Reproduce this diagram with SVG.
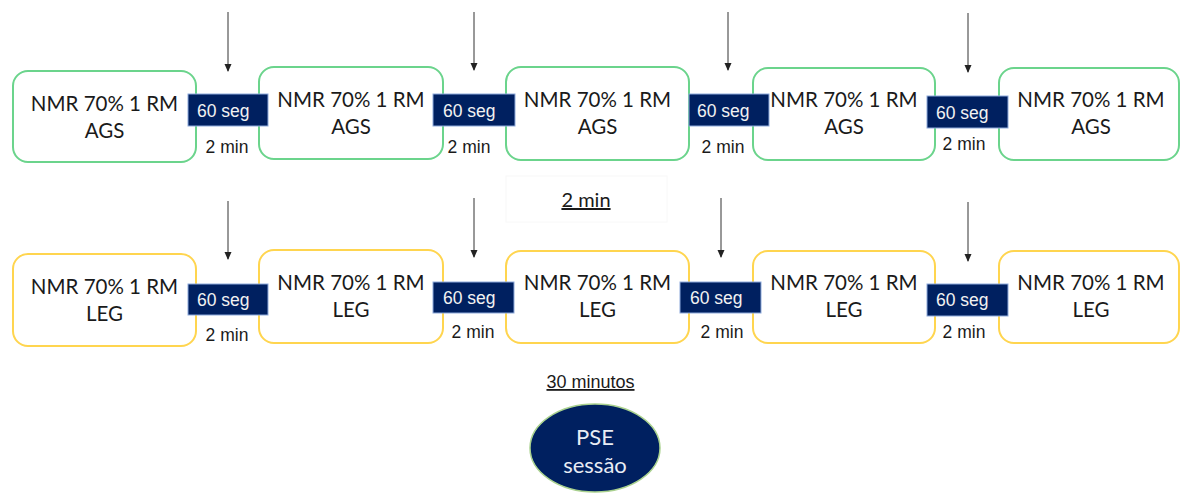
<svg xmlns="http://www.w3.org/2000/svg" width="1181" height="494" viewBox="0 0 1181 494">
<defs>
<marker id="ah" markerWidth="8" markerHeight="8" refX="7" refY="4" orient="auto" markerUnits="userSpaceOnUse">
<path d="M0,0.5 L8,4 L0,7.5 Z" fill="#222"/>
</marker>
<style>
.g{fill:#fff;stroke:#6bd48c;stroke-width:2}
.y{fill:#fff;stroke:#ffd54f;stroke-width:2}
.t{font-family:Lato,"Noto Sans",sans-serif;font-size:20.5px;fill:#1a1a1a;text-anchor:middle}
.s{fill:#002060;stroke:#8eaadb;stroke-width:1}
.st{font-family:"Liberation Sans",Arial,sans-serif;font-size:17.5px;fill:#f2f2f2}
.m{font-family:"Liberation Sans",Arial,sans-serif;font-size:17.5px;fill:#1a1a1a;text-anchor:middle}
.a{stroke:#333;stroke-width:1;fill:none;marker-end:url(#ah)}
</style>
</defs>
<rect width="1181" height="494" fill="#fff"/>
<g id="connectors">
<line class="a" x1="228" y1="12" x2="228" y2="71"/>
<line class="a" x1="474" y1="12" x2="474" y2="70"/>
<line class="a" x1="728" y1="12" x2="728" y2="70"/>
<line class="a" x1="968" y1="13" x2="968" y2="72"/>
<line class="a" x1="228" y1="201" x2="228" y2="259"/>
<line class="a" x1="474" y1="198" x2="474" y2="257"/>
<line class="a" x1="721" y1="198" x2="721" y2="257"/>
<line class="a" x1="968" y1="202" x2="968" y2="261"/>
</g>
<g id="ags1"><rect class="g" x="13" y="71" width="183" height="91" rx="15"/><text class="t" x="104.5" y="111">NMR 70% 1 RM</text><text class="t" x="104.5" y="138">AGS</text></g>
<g id="ags2"><rect class="g" x="259" y="67" width="184" height="92" rx="15"/><text class="t" x="351" y="107">NMR 70% 1 RM</text><text class="t" x="351" y="134">AGS</text></g>
<g id="ags3"><rect class="g" x="506" y="67" width="183" height="93" rx="15"/><text class="t" x="597.5" y="107">NMR 70% 1 RM</text><text class="t" x="597.5" y="134">AGS</text></g>
<g id="ags4"><rect class="g" x="753" y="68" width="182" height="92" rx="15"/><text class="t" x="844" y="107">NMR 70% 1 RM</text><text class="t" x="844" y="134">AGS</text></g>
<g id="ags5"><rect class="g" x="999" y="68" width="180" height="92" rx="15"/><text class="t" x="1091" y="107">NMR 70% 1 RM</text><text class="t" x="1091" y="134">AGS</text></g>
<g id="rest1"><rect class="s" x="188" y="94" width="80" height="32"/><text class="st" x="197" y="117">60 seg</text></g>
<g id="rest2"><rect class="s" x="433" y="94" width="82" height="32"/><text class="st" x="443" y="117">60 seg</text></g>
<g id="rest3"><rect class="s" x="689" y="94" width="80" height="32"/><text class="st" x="697" y="117">60 seg</text></g>
<g id="rest4"><rect class="s" x="927" y="96" width="81" height="32"/><text class="st" x="936" y="119">60 seg</text></g>
<g id="min1"><text class="m" x="227" y="153">2 min</text><text class="m" x="469" y="153">2 min</text><text class="m" x="723" y="153">2 min</text><text class="m" x="964" y="150">2 min</text></g>
<g id="between"><rect x="506" y="176" width="161" height="46" fill="#fff" stroke="#f8f8f8" stroke-width="1"/><text x="586" y="207" font-family="Lato,'Noto Sans',sans-serif" font-size="20" fill="#1a1a1a" text-anchor="middle" text-decoration="underline">2 min</text></g>
<g id="leg1"><rect class="y" x="13" y="254" width="183" height="92" rx="15"/><text class="t" x="104.5" y="294">NMR 70% 1 RM</text><text class="t" x="104.5" y="321">LEG</text></g>
<g id="leg2"><rect class="y" x="259" y="250" width="184" height="93" rx="15"/><text class="t" x="351" y="290">NMR 70% 1 RM</text><text class="t" x="351" y="317">LEG</text></g>
<g id="leg3"><rect class="y" x="506" y="251" width="183" height="92" rx="15"/><text class="t" x="597.5" y="290">NMR 70% 1 RM</text><text class="t" x="597.5" y="317">LEG</text></g>
<g id="leg4"><rect class="y" x="753" y="251" width="182" height="92" rx="15"/><text class="t" x="844" y="290">NMR 70% 1 RM</text><text class="t" x="844" y="317">LEG</text></g>
<g id="leg5"><rect class="y" x="999" y="251" width="180" height="92" rx="15"/><text class="t" x="1091" y="290">NMR 70% 1 RM</text><text class="t" x="1091" y="317">LEG</text></g>
<g id="rest5"><rect class="s" x="188" y="284" width="80" height="31"/><text class="st" x="197" y="306">60 seg</text></g>
<g id="rest6"><rect class="s" x="433" y="282" width="81" height="31"/><text class="st" x="443" y="304">60 seg</text></g>
<g id="rest7"><rect class="s" x="680" y="282" width="81" height="31"/><text class="st" x="690" y="304">60 seg</text></g>
<g id="rest8"><rect class="s" x="927" y="284" width="81" height="32"/><text class="st" x="936" y="306">60 seg</text></g>
<g id="min2"><text class="m" x="227" y="341">2 min</text><text class="m" x="473" y="338">2 min</text><text class="m" x="722" y="338">2 min</text><text class="m" x="964" y="338">2 min</text></g>
<g id="total"><text x="590.5" y="388" font-family="'Liberation Sans',Arial,sans-serif" font-size="18" fill="#1a1a1a" text-anchor="middle" text-decoration="underline">30 minutos</text></g>
<g id="pse"><ellipse cx="595" cy="448" rx="65" ry="44" fill="#002060" stroke="#a9d18e" stroke-width="1.5"/><text class="t" x="595" y="445" style="fill:#e8ecf4;font-size:22px">PSE</text><text class="t" x="595" y="473" style="fill:#e8ecf4;font-size:22px">sessão</text></g>
</svg>
